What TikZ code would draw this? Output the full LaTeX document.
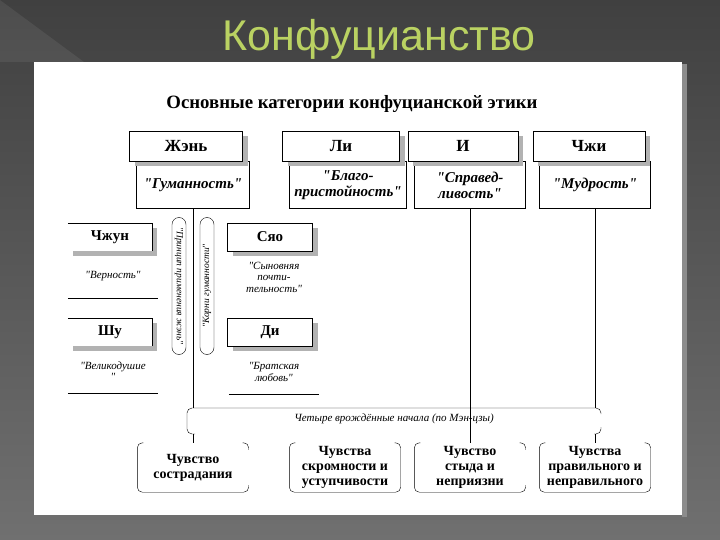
\documentclass[tikz,border=0pt]{standalone}
\usepackage{fontspec}
\setmainfont{Liberation Serif}[Ligatures=TeXOff]
\newfontfamily\titlefont{Liberation Sans}
\usetikzlibrary{shadows}
\definecolor{titlegreen}{RGB}{186,210,98}
\definecolor{bgtop}{RGB}{64,64,64}
\definecolor{bgbot}{RGB}{112,112,112}

\begin{document}
\begin{tikzpicture}[x=1pt,y=-1pt,
hdr/.style={draw,fill=white,font=\bfseries\fontsize{17}{19}\selectfont,minimum height=30pt,inner sep=0pt,
  drop shadow={shadow xshift=5pt,shadow yshift=-5pt,fill=black!30,opacity=1}},
sidehdr/.style={hdr,draw=none,minimum width=84pt,minimum height=28pt,font=\bfseries\fontsize{15}{17}\selectfont},
desc/.style={draw,fill=white,align=center,font=\bfseries\itshape\fontsize{15}{16}\selectfont,minimum height=47pt,inner sep=0pt},
side/.style={align=center,font=\itshape\fontsize{11}{11.5}\selectfont,minimum width=90pt,minimum height=44pt,inner sep=0pt},
oval/.style={draw,rounded corners=7pt,minimum width=137pt,minimum height=14pt,inner sep=0pt,font=\itshape\fontsize{9.5}{11}\selectfont},
feel/.style={align=center,font=\bfseries\fontsize{14}{15}\selectfont,minimum width=111pt,minimum height=49pt,inner sep=0pt},
frm/.style={rounded corners=5pt}]

\useasboundingbox (0,0) rectangle (720,540);
\shade[top color=bgtop,bottom color=bgbot] (0,0) rectangle (720,540);
\fill[white,opacity=.07] (0,0) -- (84,62) -- (0,62) -- cycle;
\fill[black!45] (682,64) rectangle (687,517);
\fill[white] (34,62) rectangle (682,515);

\node[font=\titlefont\fontsize{43}{46}\selectfont,text=titlegreen] (ttl)at(379,39){Конфуцианство};
\node[font=\bfseries\fontsize{18.8}{21}\selectfont] (sub)at(352,104){Основные категории конфуцианской этики};

\node[desc,minimum width=113pt] (zhd)at(193,185){"Гуманность"};
\node[desc,minimum width=117pt] (lid)at(348,185){"Благо-\\пристойность"};
\node[desc,minimum width=111pt] (yid)at(470,185){"Справед-\\ливость"};
\node[desc,minimum width=111pt] (chzhd)at(595,185){"Мудрость"};
\node[hdr,minimum width=113pt] (zh)at(186,146){Жэнь};
\node[hdr,minimum width=117pt] (li)at(341,146){Ли};
\node[hdr,minimum width=110pt] (yi)at(463,146){И};
\node[hdr,minimum width=112pt] (chzh)at(589,146){Чжи};

\node[sidehdr] (zhun)at(110,237){Чжун};
\draw (zhun.north west) -- (zhun.north east) -- (zhun.south east);
\node[side] (vern)at(113,276){"Верность"};
\draw (vern.south west) -- (vern.south east);
\node[sidehdr] (shu)at(110,332){Шу};
\draw (shu.north west) -- (shu.north east) -- (shu.south east);
\node[side] (vel)at(113,371){"Великодушие\\"};
\draw (vel.south west) -- (vel.south east);

\node[hdr,minimum width=85pt,minimum height=28pt,font=\bfseries\fontsize{15}{17}\selectfont] (syao)at(270,237){Сяо};
\node[side] (syaod)at(274,277){"Сыновняя\\почти-\\тельность"};
\node[hdr,minimum width=85pt,minimum height=28pt,font=\bfseries\fontsize{15}{17}\selectfont] (di)at(270,332){Ди};
\node[side] (did)at(274,372){"Братская\\любовь"};
\draw (did.south west) -- (did.south east);

\node[oval,rotate=-90] (o1)at(179,286){"Принцип применения жэнь"};
\node[oval,rotate=90] (o2)at(207,286){"Корни гуманности"};

\coordinate (ftl)at(187,408);
\coordinate (fbr)at(601,434);
\draw[frm] (195,434) -- (ftl|-fbr) -- (ftl) -- (fbr|-ftl) -- (601,414);
\draw[frm] (601,427) -- (fbr) -- (594,434);
\node[font=\itshape\fontsize{11}{13}\selectfont] (four)at(394,419){Четыре врождённые начала (по Мэн-цзы)};

\node[feel] (s1)at(193,467.5){Чувство\\сострадания};
\node[feel] (s2)at(345,467.5){Чувства\\скромности и\\уступчивости};
\node[feel] (s3)at(470,467.5){Чувство\\стыда и\\неприязни};
\node[feel] (s4)at(595,467.5){Чувства\\правильного и\\неправильного};
\draw[frm] ([xshift=6pt]s1.north west) -- (s1.north west) -- (s1.south west) -- (s1.south east) -- ([yshift=7pt]s1.south east);
\draw[frm] ([xshift=-6pt]s1.north east) -- (s1.north east) -- ([yshift=-7pt]s1.north east);
\draw[frm] ([xshift=6pt]s2.north west) -- (s2.north west) -- (s2.south west) -- (s2.south east) -- (s2.north east) -- ([xshift=-6pt]s2.north east);
\draw[frm] ([xshift=6pt]s3.north west) -- (s3.north west) -- (s3.south west) -- (s3.south east) -- ([yshift=7pt]s3.south east);
\draw[frm] ([xshift=-6pt]s3.north east) -- (s3.north east) -- ([yshift=-7pt]s3.north east);
\draw[frm] ([xshift=6pt]s4.north west) -- (s4.north west) -- (s4.south west) -- (s4.south east) -- (s4.north east) -- ([xshift=-6pt]s4.north east);

\draw (zhd.south) -- (zhd.south|-ftl);
\draw (chzhd.south) -- (chzhd.south|-ftl);
\draw (yid.south) -- (s3.north);
\draw (s1.north|-fbr) -- (s1.north);
\draw (s4.north|-fbr) -- (s4.north);
\end{tikzpicture}
\end{document}
